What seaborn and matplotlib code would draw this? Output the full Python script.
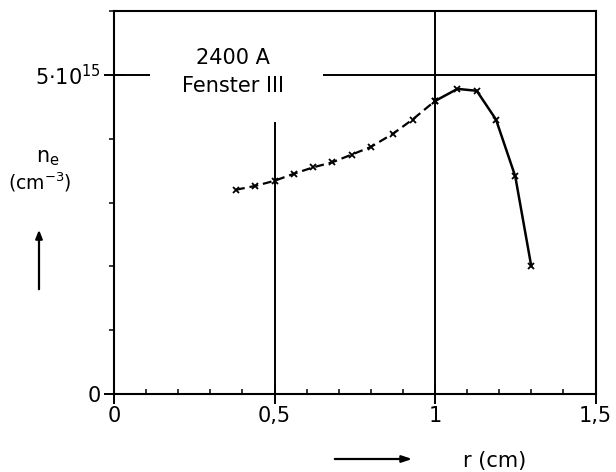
import matplotlib
matplotlib.use("Agg")
import matplotlib.pyplot as plt
import seaborn as sns
import numpy as np
import pandas as pd

# ---- data (n_e in units of 1e15 cm^-3, r in cm) ----
r_dashed = [0.38, 0.44, 0.50, 0.56, 0.62, 0.68, 0.74, 0.80, 0.87, 0.93, 1.00]
ne_dashed = [3.20, 3.26, 3.34, 3.45, 3.55, 3.63, 3.75, 3.87, 4.08, 4.30, 4.59]
r_solid = [1.00, 1.07, 1.13, 1.19, 1.25, 1.30]
ne_solid = [4.59, 4.78, 4.75, 4.30, 3.41, 2.00]

x_ticks = [0, 0.5, 1, 1.5]
x_ticklabels = ["0", "0,5", "1", "1,5"]
y_ticks = [0, 5]
y_ticklabels = ["0", r"$5{\cdot}10^{15}$"]

sns.set_theme(style="white")
plt.rcParams["font.family"] = ["DejaVu Sans"]
plt.rcParams["mathtext.fontset"] = "dejavusans"
plt.rcParams["mathtext.default"] = "regular"
plt.rcParams["text.color"] = "black"

fig = plt.figure(figsize=(6.16, 4.72), dpi=100)
ax = fig.add_axes([114/616, 1 - 394/472, 481.5/616, 383/472])

df_d = pd.DataFrame({"r": r_dashed, "ne": ne_dashed})
df_s = pd.DataFrame({"r": r_solid, "ne": ne_solid})
sns.lineplot(data=df_d, x="r", y="ne", ax=ax, color="black", lw=1.6,
             linestyle=(0, (4, 2.2)), marker="x", markersize=4.5,
             markeredgewidth=1.3, markeredgecolor="black")
sns.lineplot(data=df_s, x="r", y="ne", ax=ax, color="black", lw=1.8,
             linestyle="-", marker="x", markersize=4.5,
             markeredgewidth=1.3, markeredgecolor="black")

ax.set_xlim(0, 1.5)
ax.set_ylim(0, 6.0)

# reference lines
ax.vlines(0.5, 0, 4.26, color="black", lw=1.4)
ax.vlines(1.0, 0, 6.0, color="black", lw=1.4)
ax.hlines(5, 0, 0.112, color="black", lw=1.4)
ax.hlines(5, 0.651, 1.5, color="black", lw=1.4)

for s in ax.spines.values():
    s.set_color("black")
    s.set_linewidth(1.5)

ax.set_xticks(x_ticks)
ax.set_xticklabels(x_ticklabels)
ax.set_yticks(y_ticks)
ax.set_yticklabels(y_ticklabels)
ax.set_xticks(np.arange(0, 1.51, 0.1), minor=True)
ax.set_yticks(np.arange(0, 6.01, 1.0), minor=True)
ax.tick_params(axis="both", which="both", bottom=True, left=True,
               top=False, right=False)
ax.tick_params(axis="both", which="major", direction="inout", length=15,
               width=1.4, color="black", labelsize=15, labelcolor="black")
ax.tick_params(axis="x", which="major", pad=1)
ax.tick_params(axis="y", which="major", pad=2)
ax.tick_params(axis="x", which="minor", direction="in", length=3.5,
               width=1.1, color="black")
ax.tick_params(axis="y", which="minor", direction="out", length=3.5,
               width=1.1, color="black")
ax.set_xlabel("")
ax.set_ylabel("")

# annotations
ax.text(0.37, 5.27, "2400 A", ha="center", va="center", fontsize=15,
        color="black")
ax.text(0.37, 4.82, "Fenster III", ha="center", va="center", fontsize=15,
        color="black")

fig.text(48/616, 1 - 158/472, r"$n_e$", ha="center", va="center",
         fontsize=15, color="black")
fig.text(40/616, 1 - 182/472, r"(cm$^{-3}$)", ha="center", va="center",
         fontsize=13.5, color="black")
fig.patches.append(matplotlib.patches.FancyArrowPatch(
    (39/616, 1 - 292/472), (39/616, 1 - 227/472), transform=fig.transFigure,
    arrowstyle="-|>,head_length=5,head_width=2", mutation_scale=1,
    color="black", lw=1.6))
fig.patches.append(matplotlib.patches.FancyArrowPatch(
    (332/616, 1 - 459/472), (415/616, 1 - 459/472), transform=fig.transFigure,
    arrowstyle="-|>,head_length=6,head_width=2", mutation_scale=1,
    color="black", lw=1.6))
fig.text(463/616, 1 - 461/472, "r (cm)", ha="left", va="center",
         fontsize=15, color="black")

fig.savefig("out.png", dpi=100, facecolor="white")
